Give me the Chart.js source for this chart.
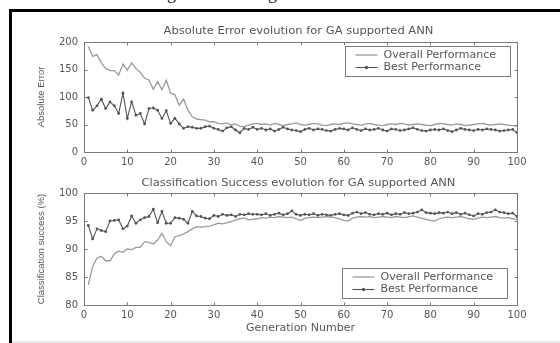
<!DOCTYPE html>
<html>
<head>
<meta charset="utf-8">
<script src="https://cdn.jsdelivr.net/npm/chart.js@4/dist/chart.umd.min.js"></script>
<style>
  html, body { margin:0; padding:0; background:#fff; }
  #wrap { position:relative; width:560px; height:343px; overflow:hidden; background:#fff; }
  #frame { position:absolute; left:9px; top:9px; width:560px; height:340px; border-left:3px solid #000; border-top:3px solid #000; }
  #cap { position:absolute; left:0; top:0; width:560px; height:8px; overflow:hidden; font-family:"Liberation Serif"; font-size:18px; color:#222; }
  #cap span { position:absolute; top:-17px; }
  #strip { position:absolute; left:12px; bottom:0; width:548px; height:2px; background:#e8e8e8; }
  canvas { position:absolute; left:0; }
  #c1 { top:0; }
  #c2 { top:170px; }
</style>
</head>
<body>
<div id="wrap">
  <div id="cap"><span style="left:167px">g</span><span style="left:268px">g</span></div>
  <div id="frame"></div>
  <div id="strip"></div>
  <canvas id="c1" width="560" height="172" style="width:560px;height:172px"></canvas>
  <canvas id="c2" width="560" height="173" style="width:560px;height:173px"></canvas>
</div>
<script>
// ---------- data (generations 1..100) ----------
const seriesLabels = ['Overall Performance', 'Best Performance'];

const errOverall = [192,174,177,162,152,148,148,140,160,149,162,152,145,134,131,114,128,113,131,107,
  104,85,96,76,64,60,59,58,55,55,52,51,53,49,51,47,46,49,51,52,
  50,51,49,52,50,48,50,51,53,50,49,50,52,51,49,48,50,51,50,52,
  53,51,50,49,51,52,50,49,48,50,51,50,52,51,49,50,51,50,49,48,
  50,52,51,50,49,51,50,48,49,50,51,52,50,49,50,51,50,49,48,47];

const errBest = [99,76,84,96,79,91,84,70,107,61,91,67,70,51,79,80,76,61,75,52,
  61,51,43,46,45,43,43,46,47,43,41,38,44,46,40,35,43,41,45,41,
  43,40,42,38,41,45,42,40,39,37,41,43,40,42,41,39,38,41,43,42,
  40,44,41,39,42,40,41,43,40,38,42,41,39,40,42,44,41,39,38,40,
  41,40,42,39,37,40,43,41,40,39,41,40,42,41,40,38,39,40,41,35];

const clsOverall = [83.6,86.9,88.4,88.7,87.9,87.9,89.1,89.6,89.4,90.0,89.9,90.3,90.3,91.3,91.2,90.9,91.6,92.8,91.3,90.6,
  92.2,92.4,92.7,93.1,93.6,94.0,93.9,94.0,94.1,94.3,94.6,94.5,94.7,94.9,95.2,95.4,95.5,95.2,95.3,95.4,
  95.6,95.5,95.7,95.6,95.8,95.7,95.6,95.7,95.4,95.1,95.5,95.6,95.7,95.6,95.7,95.8,95.7,95.6,95.4,95.1,
  95.0,95.5,95.7,95.8,95.7,95.8,95.6,95.7,95.8,95.7,95.6,95.8,95.7,95.6,95.8,95.9,95.7,95.5,95.3,95.1,
  95.0,95.4,95.6,95.7,95.6,95.7,95.8,95.6,95.4,95.3,95.5,95.7,95.6,95.7,95.8,95.6,95.5,95.6,95.4,95.3];

const clsBest = [94.2,91.8,93.6,93.3,93.1,95.0,95.1,95.2,93.6,94.1,95.9,94.6,95.2,95.6,95.8,97.1,94.7,96.7,94.6,94.6,
  95.6,95.5,95.3,94.6,96.7,95.9,95.8,95.5,95.4,96.0,95.8,96.2,96.0,96.1,95.8,96.2,96.1,96.3,96.2,96.2,
  96.1,96.3,96.0,96.2,96.4,96.1,96.3,96.8,96.2,96.0,96.2,96.1,96.3,96.0,96.2,96.1,96.0,96.2,96.3,96.1,
  96.0,96.4,96.6,96.3,96.5,96.2,96.1,96.3,96.2,96.4,96.1,96.3,96.2,96.5,96.3,96.4,96.6,97.0,96.5,96.4,
  96.3,96.5,96.4,96.6,96.3,96.5,96.2,96.4,96.1,95.9,96.3,96.2,96.5,96.6,97.0,96.6,96.5,96.3,96.4,95.8];

const xTicks = { min:0, max:100, step:10 };
const errTicks = { min:0, max:200, step:50 };
const clsTicks = { min:80, max:100, step:5 };

const titles = ['Absolute Error evolution for GA supported ANN', 'Classification Success evolution for GA supported ANN'];
const yTitles = ['Absolute Error', 'Classification success (%)'];
const xTitle = 'Generation Number';

// ---------- styles ----------
const TEXT = '#555555';
const AXIS = '#7a7a7a';
const C_OVER = '#9a9a9a';
const C_BEST = '#555555';
const HFONT = '"DejaVu Sans", sans-serif';

function toXY(arr){ return arr.map((v,i)=>({x:i+1, y:v})); }

const matlab = {
  id: 'matlab',
  afterDraw(chart, args, o) {
    const {ctx, chartArea:a, scales} = chart;
    ctx.save();
    ctx.strokeStyle = AXIS; ctx.lineWidth = 1;
    const L = Math.round(a.left)+0.5, T = Math.round(a.top)+0.5, R = Math.round(a.right)+0.5, B = Math.round(a.bottom)+0.5;
    ctx.strokeRect(L, T, R-L, B-T);
    const tl = 3;
    ctx.beginPath();
    scales.x.ticks.forEach(t => {
      const px = Math.round(scales.x.getPixelForValue(t.value))+0.5;
      ctx.moveTo(px, B); ctx.lineTo(px, B-tl);
      ctx.moveTo(px, T); ctx.lineTo(px, T+tl);
    });
    scales.y.ticks.forEach(t => {
      const py = Math.round(scales.y.getPixelForValue(t.value))+0.5;
      ctx.moveTo(L, py); ctx.lineTo(L+tl, py);
      ctx.moveTo(R, py); ctx.lineTo(R-tl, py);
    });
    ctx.stroke();
    ctx.fillStyle = TEXT;
    ctx.font = '10px ' + HFONT;
    ctx.textAlign = 'center'; ctx.textBaseline = 'middle';
    ctx.save();
    ctx.translate((a.left+a.right)/2 - 2, a.top - o.titleGap);
    ctx.scale(1.15, 1);
    ctx.fillText(o.title, 0, 0);
    ctx.restore();
    const w = 165, h = 30;
    const bx = Math.round(a.right - o.legRight - w) + 0.5;
    const by = Math.round(o.legTop != null ? a.top + o.legTop : a.bottom - o.legBottom - h) + 0.5;
    ctx.fillStyle = '#fff';
    ctx.fillRect(bx, by, w, h);
    ctx.strokeStyle = AXIS; ctx.strokeRect(bx, by, w, h);
    chart.data.datasets.forEach((ds, i) => {
      const yy = by + 8.5 + i*12.5;
      ctx.strokeStyle = ds.borderColor; ctx.lineWidth = ds.borderWidth;
      ctx.beginPath(); ctx.moveTo(bx+10, yy); ctx.lineTo(bx+32, yy); ctx.stroke();
      if (ds.pointRadius > 0) {
        ctx.fillStyle = ds.pointBackgroundColor;
        ctx.beginPath(); ctx.arc(bx+21, yy, ds.pointRadius+0.3, 0, Math.PI*2); ctx.fill();
      }
      ctx.fillStyle = TEXT;
      ctx.font = '10px ' + HFONT;
      ctx.textAlign = 'left';
      ctx.save(); ctx.translate(bx+38, yy); ctx.scale(1.1, 1); ctx.fillText(ds.label, 0, 0); ctx.restore();
    });
    ctx.restore();
  }
};

function makeChart(id, overall, best, yt, yTitle, opts) {
  return new Chart(document.getElementById(id), {
    type: 'line',
    data: {
      datasets: [
        { label: seriesLabels[0], data: toXY(overall), borderColor: C_OVER, backgroundColor: C_OVER,
          borderWidth: 1.3, pointRadius: 0, tension: 0 },
        { label: seriesLabels[1], data: toXY(best), borderColor: C_BEST, backgroundColor: C_BEST,
          pointBackgroundColor: C_BEST, pointBorderWidth: 0,
          borderWidth: 1.1, pointRadius: 1.4, tension: 0 }
      ]
    },
    options: {
      responsive: false, animation: false, devicePixelRatio: 1,
      layout: { padding: opts.padding },
      plugins: { legend: { display:false }, tooltip: { enabled:false }, title: { display:false },
        matlab: opts.matlab },
      scales: {
        x: {
          type: 'linear', min: xTicks.min, max: xTicks.max,
          ticks: { stepSize: xTicks.step, color: TEXT, font: { family: HFONT, size: 10 }, padding: 4, maxRotation: 0 },
          grid: { display: false, drawTicks: false }, border: { display: false },
          title: opts.xTitle ? { display: true, text: opts.xTitle, color: TEXT, font: { family: HFONT, size: 11 }, padding: { top: 0, bottom: 2 } } : { display: false },
          afterFit(s) { s.height = opts.xHeight; }
        },
        y: {
          min: yt.min, max: yt.max,
          ticks: { stepSize: yt.step, color: TEXT, font: { family: HFONT, size: 10 }, padding: 6 },
          grid: { display: false, drawTicks: false }, border: { display: false },
          title: { display: true, text: yTitle, color: TEXT, font: { family: '"Liberation Sans", sans-serif', size: 9.5 }, padding: { top: 4, bottom: 0 } },
          afterFit(s) { s.width = 52; }
        }
      }
    },
    plugins: [matlab]
  });
}

makeChart('c1', errOverall, errBest, errTicks, yTitles[0], {
  padding: { left: 32, right: 43, top: 42, bottom: 0 },
  xHeight: 20,
  matlab: { title: titles[0], titleGap: 11, legRight: 7, legTop: 4 }
});

makeChart('c2', clsOverall, clsBest, clsTicks, yTitles[1], {
  padding: { left: 32, right: 43, top: 23, bottom: 6 },
  xHeight: 32, xTitle: xTitle,
  matlab: { title: titles[1], titleGap: 10, legRight: 10, legBottom: 7 }
});
</script>
</body>
</html>
